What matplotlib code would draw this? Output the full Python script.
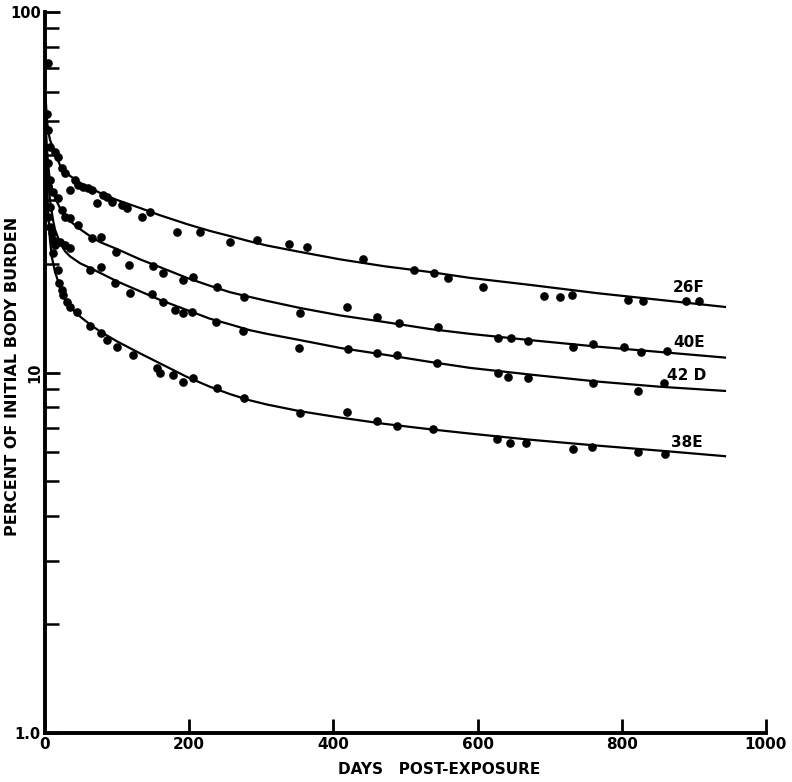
import matplotlib
matplotlib.use("Agg")
import matplotlib.pyplot as plt
import matplotlib.transforms as mtransforms
from matplotlib.ticker import FixedLocator, NullFormatter, FixedFormatter

# ---------------- data ----------------
series_names = ["26F", "40E", "42D", "38E"]

# fitted curves (days, percent of initial body burden)
curve_26F_days = [1, 2.8, 4.2, 6.9, 13.9, 20.8, 27.7, 34.7, 48.5, 62.4, 76.3, 99.9, 131.8, 159.5,
                  196.9, 228.8, 256.6, 284.3, 307.9, 353.7, 409.2, 471.6, 534.0, 589.5, 672.7,
                  765.6, 853.0, 943.1]
curve_26F_vals = [57.0, 50.2, 47.1, 44.2, 40.6, 37.6, 36.2, 35.1, 33.6, 32.5, 31.5, 30.1, 28.6, 27.3,
                  25.8, 24.7, 23.9, 23.1, 22.5, 21.6, 20.6, 19.7, 19.0, 18.3, 17.5,
                  16.6, 15.9, 15.2]

curve_40E_days = [1, 2.8, 4.2, 6.9, 13.9, 20.8, 27.7, 34.7, 48.5, 62.4, 76.3, 99.9, 131.8, 159.5,
                  196.9, 228.8, 256.6, 284.3, 307.9, 353.7, 409.2, 471.6, 534.0, 589.5, 672.7,
                  765.6, 853.0, 943.1]
curve_40E_vals = [48.6, 41.4, 38.1, 33.8, 30.5, 28.6, 27.4, 26.3, 25.0, 23.9, 23.0, 22.0, 20.6, 19.6,
                  18.3, 17.4, 16.7, 16.2, 15.8, 15.1, 14.4, 13.8, 13.2, 12.8, 12.3,
                  11.8, 11.4, 11.0]

curve_42D_days = [1, 2.8, 4.2, 6.9, 11.1, 13.9, 20.8, 27.7, 34.7, 48.5, 62.4, 76.3, 99.9, 131.8,
                  159.5, 196.9, 228.8, 256.6, 284.3, 307.9, 353.7, 409.2, 471.6, 534.0, 589.5,
                  672.7, 765.6, 853.0, 943.1]
curve_42D_vals = [44.2, 37.6, 34.2, 30.1, 26.5, 24.9, 22.9, 21.7, 21.0, 20.1, 19.5, 18.9, 17.9, 16.8,
                  15.9, 14.9, 14.1, 13.6, 13.1, 12.8, 12.3, 11.7, 11.2, 10.7, 10.3,
                  9.87, 9.44, 9.13, 8.89]

curve_38E_days = [1, 2.8, 4.2, 6.9, 9.7, 13.9, 20.8, 27.7, 34.7, 48.5, 62.4, 76.3, 99.9, 131.8,
                  159.5, 196.9, 228.8, 256.6, 284.3, 307.9, 353.7, 409.2, 471.6, 534.0, 589.5,
                  672.7, 765.6, 853.0, 943.1]
curve_38E_vals = [41.4, 33.1, 28.2, 23.3, 20.8, 19.0, 17.3, 16.0, 15.2, 14.3, 13.6, 13.0, 12.2, 11.3,
                  10.6, 9.72, 9.13, 8.71, 8.37, 8.15, 7.81, 7.50, 7.20, 6.96, 6.77,
                  6.51, 6.27, 6.07, 5.86]

# measured points (days, percent)
pts_26F_days = [2.8, 4, 4.2, 6.9, 13.9, 18.0, 23.6, 27.7, 34.7, 41.6, 45.8, 52.7, 59.6, 65.2, 72.1, 80.4,
                86.0, 92.9, 106.8, 113.7, 134.5, 145.6, 183.1, 215.0, 256.6, 294.0, 338.4, 363.4,
                441.1, 511.8, 539.5, 559.0, 607.5, 692.1, 714.3, 730.9, 808.6, 829.4, 889.0, 907.1]
pts_26F_vals = [52, 72, 47, 42.2, 40.9, 39.6, 36.9, 35.7, 32.1, 34.2, 33.1, 32.7, 32.5, 32.1, 29.5, 31.1,
                30.7, 29.7, 29.2, 28.6, 27.0, 27.9, 24.5, 24.5, 23.0, 23.3, 22.7, 22.3,
                20.6, 19.2, 18.9, 18.3, 17.3, 16.3, 16.2, 16.4, 15.9, 15.8, 15.8, 15.8]

pts_40E_days = [4.2, 6.9, 11.1, 18.0, 23.6, 27.7, 34.7, 45.8, 65.2, 77.7, 98.5, 116.5, 149.8, 163.7,
                191.4, 205.3, 238.6, 276.0, 353.7, 418.9, 460.5, 491.0, 545.1, 628.3, 646.3, 669.9,
                732.3, 760.1, 803.1, 826.6, 862.7]
pts_40E_vals = [38, 34.2, 31.7, 30.5, 28.2, 27.0, 26.8, 25.7, 23.6, 23.8, 21.6, 19.9, 19.7, 18.9,
                18.0, 18.4, 17.3, 16.2, 14.6, 15.2, 14.3, 13.7, 13.4, 12.5, 12.5, 12.2,
                11.8, 12.0, 11.8, 11.4, 11.5]

pts_42D_days = [4.2, 6.9, 9.7, 11.1, 13.9, 20.8, 27.7, 34.7, 62.4, 77.7, 97.1, 117.9, 148.4, 163.7,
                180.3, 191.4, 203.9, 237.2, 274.6, 352.3, 420.2, 460.5, 488.2, 543.7, 628.3,
                642.2, 669.9, 760.1, 822.5, 858.5]
pts_42D_vals = [33, 28.8, 24.4, 23.3, 22.6, 23.0, 22.6, 22.2, 19.2, 19.6, 17.7, 16.6, 16.5, 15.7,
                14.9, 14.6, 14.7, 13.8, 13.0, 11.7, 11.6, 11.3, 11.2, 10.6, 10.0,
                9.72, 9.66, 9.35, 8.89, 9.35]

pts_38E_days = [4.2, 6.9, 11.1, 18.0, 19.4, 23.6, 25.0, 30.5, 34.7, 44.4, 62.4, 77.7, 86.0, 99.9,
                122.1, 155.3, 159.5, 177.5, 191.4, 205.3, 238.6, 276.0, 353.7, 418.9, 460.5,
                488.2, 538.1, 626.9, 644.9, 667.1, 732.3, 758.7, 822.5, 859.9]
pts_38E_vals = [27, 25.3, 21.4, 19.2, 17.7, 16.9, 16.4, 15.7, 15.2, 14.7, 13.5, 12.9, 12.3, 11.8,
                11.2, 10.3, 10.0, 9.84, 9.41, 9.66, 9.06, 8.49, 7.72, 7.77, 7.33,
                7.11, 6.97, 6.54, 6.37, 6.37, 6.14, 6.21, 6.02, 5.94]

label_days = [893, 893, 890, 890]
label_vals = [17.2, 12.1, 9.84, 6.41]
label_texts = ["26F", "40E", "42 D", "38E"]

x_ticks = [0, 200, 400, 600, 800, 1000]
x_ticklabels = ["0", "200", "400", "600", "800", "1000"]
y_major = [1, 10, 100]
y_majorlabels = ["1.0", "", "100"]
y_mid_label = "10"
y_minor = [2, 3, 4, 5, 6, 7, 8, 9, 20, 30, 40, 50, 60, 70, 80, 90]

# ---------------- figure ----------------
W, H = 792, 782
fig = plt.figure(figsize=(W / 100, H / 100), dpi=100)
ax = fig.add_axes([45 / W, 49 / H, 721 / W, 721 / H])
ax.set_yscale("log")
ax.set_xlim(0, 1000)
ax.set_ylim(1, 100)

curves = [(curve_26F_days, curve_26F_vals), (curve_40E_days, curve_40E_vals),
          (curve_42D_days, curve_42D_vals), (curve_38E_days, curve_38E_vals)]
points = [(pts_26F_days, pts_26F_vals), (pts_40E_days, pts_40E_vals),
          (pts_42D_days, pts_42D_vals), (pts_38E_days, pts_38E_vals)]

for (cd, cv) in curves:
    ax.plot(cd, cv, color="black", lw=1.6, solid_joinstyle="round", clip_on=False)
for (pd_, pv) in points:
    ax.plot(pd_, pv, "o", color="black", ms=5.2, clip_on=False)

for d, v, t in zip(label_days, label_vals, label_texts):
    ax.text(d, v, t, fontsize=11, fontweight="bold", ha="center", va="center")

for s in ["top", "right"]:
    ax.spines[s].set_visible(False)
for s in ["left", "bottom"]:
    ax.spines[s].set_linewidth(2.8)

ax.xaxis.set_major_locator(FixedLocator(x_ticks))
ax.xaxis.set_major_formatter(FixedFormatter(x_ticklabels))
ax.xaxis.set_minor_locator(FixedLocator([]))
ax.yaxis.set_major_locator(FixedLocator(y_major))
ax.yaxis.set_major_formatter(FixedFormatter(y_majorlabels))
ax.yaxis.set_minor_locator(FixedLocator(y_minor))
ax.yaxis.set_minor_formatter(NullFormatter())

ax.tick_params(axis="x", direction="in", length=10, width=2, pad=3, labelsize=11)
ax.tick_params(axis="y", which="major", direction="in", length=11, width=2, pad=3, labelsize=10.5)
ax.tick_params(axis="y", which="minor", direction="in", length=10, width=1.8)
for lab in ax.get_xticklabels() + ax.get_yticklabels():
    lab.set_fontweight("bold")

# the "10" label of the reference is written sideways
trans = mtransforms.blended_transform_factory(ax.transAxes, ax.transData)
ax.text(-10 / 721, 10, y_mid_label, transform=trans, rotation=90, ha="center", va="center",
        fontsize=10.5, fontweight="bold")

ax.text((439 - 45) / 721, -37 / 721, "DAYS   POST-EXPOSURE", transform=ax.transAxes,
        ha="center", va="center", fontsize=11, fontweight="bold")
fig.text(13 / W, 1 - 376 / H, "PERCENT OF INITIAL BODY BURDEN", rotation=90,
         ha="center", va="center", fontsize=11.5, fontweight="bold")

fig.savefig("out.png", dpi=100)
